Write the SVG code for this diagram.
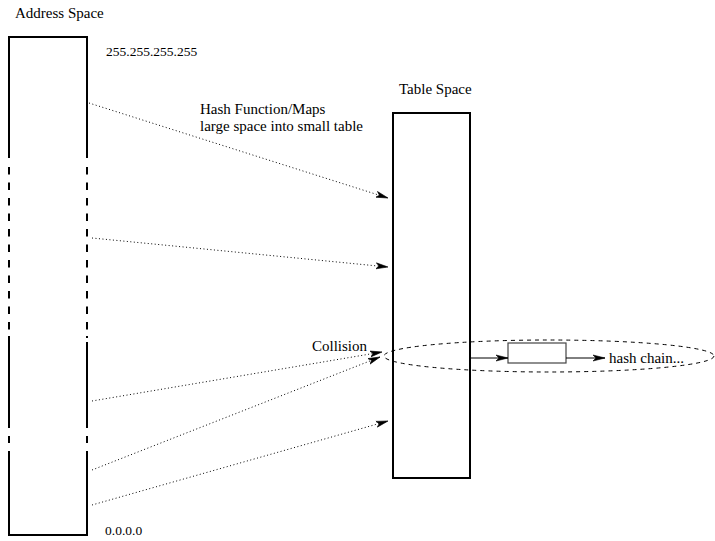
<svg xmlns="http://www.w3.org/2000/svg" width="715" height="541" viewBox="0 0 715 541">
<style>
text{font-family:"Liberation Serif","Times New Roman",serif;font-size:15px;fill:#000}
.num{font-size:13.5px}
.box{fill:none;stroke:#000;stroke-width:2}
.dot{fill:none;stroke:#000;stroke-width:1;stroke-dasharray:1 2.5}
.dash{fill:none;stroke:#000;stroke-width:1;stroke-dasharray:4 4}
.solid{fill:none;stroke:#000;stroke-width:1}
</style>
<defs>
<marker id="ah" viewBox="0 0 12 8" refX="12" refY="4" markerWidth="12" markerHeight="8" markerUnits="userSpaceOnUse" orient="auto">
<path d="M0,1 L12,4 L0,7 L3,4 Z" fill="#000" stroke="#000" stroke-width="0.6" stroke-linejoin="miter"/>
</marker>
</defs>
<g id="address-space">
<path class="box" d="M9,158 V37 H87 V158"/>
<path class="box" d="M9,167 V330 M87,167 V330" stroke-dasharray="7.5 8" style="stroke-dasharray:7.5 8"/>
<path class="box" d="M9,336 V428 M87,342 V428 M87,336 V338"/>
<path class="box" d="M9,436 V443 M87,436 V443"/>
<path class="box" d="M9,451 V535 H87 V451"/>
<text x="15" y="18">Address Space</text>
<text class="num" x="106" y="56">255.255.255.255</text>
<text class="num" x="105" y="535">0.0.0.0</text>
</g>
<g id="table-space">
<rect class="box" x="393" y="113" width="77" height="365"/>
<text x="399" y="94">Table Space</text>
</g>
<g id="collision">
<ellipse class="dash" cx="549" cy="356" rx="165" ry="16"/>
<text x="312" y="351">Collision</text>
</g>
<g id="chain-node">
<rect x="508" y="343" width="58" height="20" fill="none" stroke="#444" stroke-width="1.2"/>
<text x="609" y="363">hash chain...</text>
</g>
<g id="labels">
<text x="200" y="114">Hash Function/Maps</text>
<text x="200" y="131">large space into small table</text>
</g>
<g id="connectors">
<path class="dot" d="M89,103 L388,198" marker-end="url(#ah)"/>
<path class="dot" d="M92,238 L388,267" marker-end="url(#ah)"/>
<path class="dot" d="M92,401 L382,352" marker-end="url(#ah)"/>
<path class="dot" d="M92,470 L380,357" marker-end="url(#ah)"/>
<path class="dot" d="M92,505 L388,421" marker-end="url(#ah)"/>
<path class="solid" d="M471,358 L508,358" marker-end="url(#ah)"/>
<path class="solid" d="M566,358 L605,358" marker-end="url(#ah)"/>
</g>
</svg>
